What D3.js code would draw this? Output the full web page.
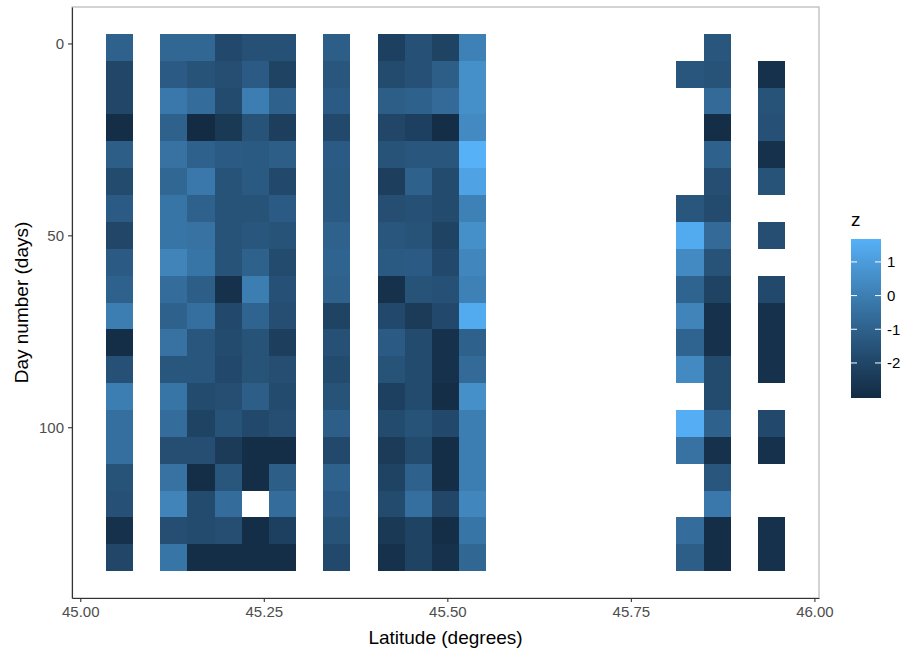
<!DOCTYPE html>
<html>
<head>
<meta charset="utf-8">
<script src="https://cdn.jsdelivr.net/npm/d3@7"></script>
<style>
    body { margin: 0; background: #fff; }
    text { font-family: "Liberation Sans", Arial, sans-serif; }
</style>
</head>
<body>
<script>
// tile centres (latitude) and sampling days
var v_Lats = [45.0535, 45.1275, 45.1645, 45.2015, 45.2385, 45.2755, 45.3495,
              45.4235, 45.4605, 45.4975, 45.5345, 45.8305, 45.8675, 45.9415];
var v_Days = [1, 8, 15, 22, 29, 36, 43, 50, 57, 64, 71, 78, 85, 92, 99, 106, 113, 120, 127, 134];

// z per day (row) and latitude (column), null = no tile
var v_Z = [
    [-1.0, -0.8, -0.8, -1.9, -1.6, -1.6, -1.1, -2.2, -1.6, -2.1,  0.1, null, -1.4, null],
    [-2.0, -1.2, -1.5, -1.7, -1.2, -2.1, -1.4, -1.8, -1.6, -1.1,  0.6, -1.4, -1.5, -2.8],
    [-2.0, -0.2, -0.6, -1.8,  0.0, -1.0, -1.2, -1.1, -1.0, -0.7,  0.6, null, -0.7, -1.5],
    [-2.9, -1.0, -3.04,-2.5, -1.5, -2.3, -1.9, -2.0, -2.2, -2.9,  0.4, null, -2.9, -1.6],
    [-1.1, -0.4, -1.0, -1.2, -1.3, -1.1, -1.2, -1.5, -1.4, -1.4,  1.68, null, -1.0, -2.8],
    [-1.8, -0.8, -0.2, -1.5, -1.3, -1.9, -1.3, -2.3, -1.0, -1.8,  1.2, null, -1.7, -1.5],
    [-1.2, -0.3, -1.0, -1.5, -1.5, -1.2, -1.3, -1.7, -1.6, -1.8,  0.1, -1.4, -1.8, null],
    [-2.0, -0.3, -0.4, -1.5, -1.4, -1.5, -1.0, -1.4, -1.5, -2.1,  0.6,  1.5, -0.7, -1.7],
    [-1.2,  0.2, -0.3, -1.5, -1.0, -1.8, -0.9, -1.3, -1.2, -1.9,  0.3,  0.4, -1.5, null],
    [-1.0, -0.6, -1.1, -2.8,  0.0, -1.6, -1.0, -2.8, -1.5, -1.6,  0.1, -0.9, -2.1, -1.9],
    [ 0.0, -1.0, -0.5, -1.9, -0.9, -1.7, -2.1, -1.9, -2.4, -1.9,  1.5,  0.2, -2.8, -2.8],
    [-2.9, -0.4, -1.4, -1.8, -1.5, -2.3, -1.6, -1.2, -1.8, -2.8, -1.0, -0.9, -2.8, -2.8],
    [-1.6, -1.4, -1.4, -1.9, -1.5, -1.7, -1.8, -1.5, -1.8, -2.8, -0.7,  0.4, -1.8, -2.8],
    [ 0.0, -0.3, -1.8, -1.7, -1.1, -1.8, -1.5, -2.2, -1.8, -2.9,  0.6, null, -1.8, null],
    [-0.5, -0.6, -2.1, -1.5, -1.9, -1.7, -1.1, -1.8, -1.5, -1.9,  0.0,  1.6, -1.0, -1.9],
    [-0.5, -1.7, -1.7, -2.4, -2.9, -2.9, -1.9, -2.4, -1.8, -2.9,  0.0, -0.4, -2.8, -2.8],
    [-1.5, -0.4, -2.9, -1.4, -2.9, -1.1, -1.0, -2.1, -1.0, -2.9,  0.0, null, -1.4, null],
    [-1.6,  0.2, -1.8, -0.6, null, -0.6, -1.2, -1.8, -0.5, -2.0,  0.3, null, -0.2, null],
    [-2.8, -1.7, -1.8, -1.7, -2.9, -2.2, -1.5, -2.5, -2.1, -2.9, -0.3, -0.6, -2.9, -2.8],
    [-2.0, -0.3, -2.9, -2.9, -2.9, -2.9, -1.9, -2.8, -2.1, -2.8, -0.8, -1.1, -2.9, -2.8]
];

var v_XTicks = [45.00, 45.25, 45.50, 45.75, 46.00];
var v_YTicks = [0, 50, 100];
var v_ZTicks = [1, 0, -1, -2];

var v_TileW = 0.037;
var v_TileH = 7;

var v_W = 909, v_H = 653;
var v_Panel = {left: 72, right: 819, top: 7, bottom: 598};

var v_Cells = [];
v_Days.forEach(function (d, i) {
    v_Lats.forEach(function (lat, j) {
        if ( v_Z[i][j] != null ) {
            v_Cells.push({lat: lat, day: d, z: v_Z[i][j]});
        }
    });
});

// ggplot style 5% expansion
function expand(lo, hi) {
    var p = (hi - lo) * 0.05;
    return [lo - p, hi + p];
}

var v_XScale = d3.scaleLinear()
    .domain(expand(d3.min(v_Lats) - v_TileW / 2, d3.max(v_Lats) + v_TileW / 2))
    .range([v_Panel.left, v_Panel.right]);
var v_YScale = d3.scaleLinear()
    .domain(expand(d3.min(v_Days) - v_TileH / 2, d3.max(v_Days) + v_TileH / 2))
    .range([v_Panel.top, v_Panel.bottom]);

var v_ZExtent = d3.extent(v_Cells, function (c) { return c.z; });
var v_Color = d3.scaleSequential(d3.interpolateLab("#132B43", "#56B1F7")).domain(v_ZExtent);

var v_SVG = d3.select("body").append("svg")
    .attr("width", v_W)
    .attr("height", v_H);

// tiles
v_SVG.append("g")
    .attr("shape-rendering", "crispEdges")
    .selectAll("rect")
    .data(v_Cells)
    .join("rect")
    .attr("x", function (c) { return Math.round(v_XScale(c.lat - v_TileW / 2)); })
    .attr("y", function (c) { return Math.round(v_YScale(c.day - v_TileH / 2)); })
    .attr("width", function (c) { return Math.round(v_XScale(c.lat + v_TileW / 2)) - Math.round(v_XScale(c.lat - v_TileW / 2)); })
    .attr("height", function (c) { return Math.round(v_YScale(c.day + v_TileH / 2)) - Math.round(v_YScale(c.day - v_TileH / 2)); })
    .attr("fill", function (c) { return v_Color(c.z); });

// panel border: top/right light, axes dark
v_SVG.append("rect")
    .attr("x", v_Panel.left)
    .attr("y", v_Panel.top)
    .attr("width", v_Panel.right - v_Panel.left)
    .attr("height", v_Panel.bottom - v_Panel.top)
    .attr("fill", "none")
    .attr("stroke", "#b0b0b0")
    .attr("stroke-width", 1.1);

var v_XAxis = d3.axisBottom(v_XScale)
    .tickValues(v_XTicks)
    .tickFormat(d3.format(".2f"))
    .tickSize(4)
    .tickPadding(4)
    .tickSizeOuter(0);
var v_YAxis = d3.axisLeft(v_YScale)
    .tickValues(v_YTicks)
    .tickSize(4)
    .tickPadding(4)
    .tickSizeOuter(0);

var v_GX = v_SVG.append("g")
    .attr("transform", "translate(0," + v_Panel.bottom + ")")
    .call(v_XAxis);
var v_GY = v_SVG.append("g")
    .attr("transform", "translate(" + v_Panel.left + ",0)")
    .call(v_YAxis);

[v_GX, v_GY].forEach(function (g) {
    g.select(".domain").attr("stroke", "#333").attr("stroke-width", 1.1);
    g.selectAll(".tick line").attr("stroke", "#333").attr("stroke-width", 1.1);
    g.selectAll(".tick text")
        .attr("fill", "#4d4d4d")
        .style("font-size", "15px")
        .style("font-family", "'Liberation Sans', Arial, sans-serif");
});

// axis titles
v_SVG.append("text")
    .attr("x", (v_Panel.left + v_Panel.right) / 2)
    .attr("y", 644)
    .attr("text-anchor", "middle")
    .style("font-size", "19px")
    .text("Latitude (degrees)");

v_SVG.append("text")
    .attr("transform", "translate(28," + ((v_Panel.top + v_Panel.bottom) / 2) + ") rotate(-90)")
    .attr("text-anchor", "middle")
    .style("font-size", "19px")
    .text("Day number (days)");

// colour bar legend
var v_Leg = {x: 851, w: 30, top: 239, bottom: 398};
var v_LegScale = d3.scaleLinear().domain(v_ZExtent).range([v_Leg.bottom, v_Leg.top]);

var v_Grad = v_SVG.append("defs").append("linearGradient")
    .attr("id", "zgrad")
    .attr("x1", "0").attr("y1", "1")
    .attr("x2", "0").attr("y2", "0");
d3.range(0, 1.0001, 0.05).forEach(function (t) {
    v_Grad.append("stop")
        .attr("offset", t)
        .attr("stop-color", v_Color(v_ZExtent[0] + t * (v_ZExtent[1] - v_ZExtent[0])));
});

v_SVG.append("rect")
    .attr("x", v_Leg.x)
    .attr("y", v_Leg.top)
    .attr("width", v_Leg.w)
    .attr("height", v_Leg.bottom - v_Leg.top)
    .attr("fill", "url(#zgrad)");

var v_LegTicks = v_SVG.append("g").selectAll("g")
    .data(v_ZTicks)
    .join("g")
    .attr("transform", function (d) { return "translate(0," + v_LegScale(d) + ")"; });

v_LegTicks.append("line")
    .attr("x1", v_Leg.x).attr("x2", v_Leg.x + 6)
    .attr("stroke", "#fff").attr("stroke-width", 1);
v_LegTicks.append("line")
    .attr("x1", v_Leg.x + v_Leg.w - 6).attr("x2", v_Leg.x + v_Leg.w)
    .attr("stroke", "#fff").attr("stroke-width", 1);
v_LegTicks.append("text")
    .attr("x", v_Leg.x + v_Leg.w + 6)
    .attr("dy", "0.36em")
    .style("font-size", "15px")
    .attr("fill", "#000")
    .text(function (d) { return d; });

v_SVG.append("text")
    .attr("x", v_Leg.x)
    .attr("y", 226)
    .style("font-size", "19px")
    .text("z");
</script>
</body>
</html>
